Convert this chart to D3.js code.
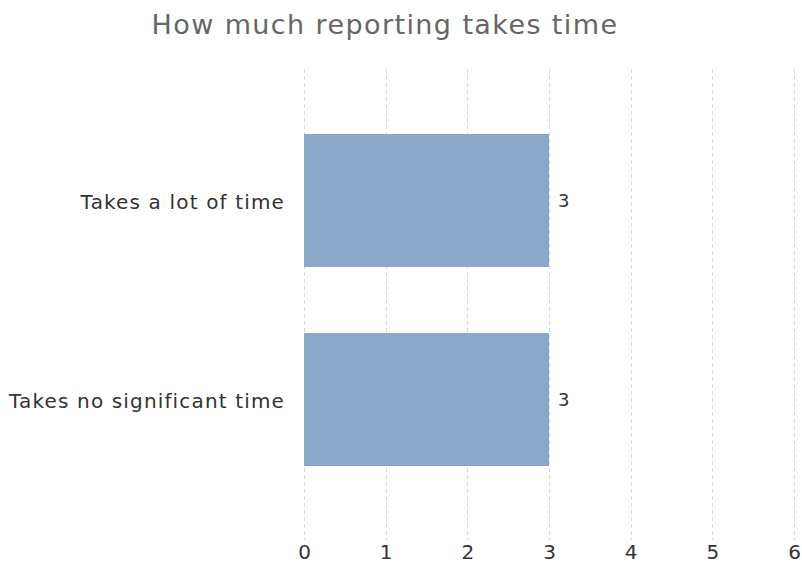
<!DOCTYPE html>
<html>
<head>
<meta charset="utf-8">
<script src="https://cdn.jsdelivr.net/npm/d3@7"></script>
<style>
  html, body { margin: 0; padding: 0; background: #fff; }
  svg { display: block; }
  text { font-family: "DejaVu Sans", Verdana, sans-serif; }
</style>
</head>
<body>
<svg id="chart" width="802" height="563"></svg>
<script>
// Survey answers and their counts
const categories = ["Takes a lot of time", "Takes no significant time"];
const counts = [3, 3];
const tickValues = [0, 1, 2, 3, 4, 5, 6];
const chartTitle = "How much reporting takes time";

const width = 802, height = 563;
const margin = { top: 69, right: 8, bottom: 23, left: 304 };

const svg = d3.select("#chart");

const x = d3.scaleLinear()
  .domain([0, 6])
  .range([margin.left, width - margin.right]);

const y = d3.scaleBand()
  .domain(categories)
  .range([101, 499])
  .paddingInner(66 / 199)
  .paddingOuter(33 / 199);

// Title
svg.append("text")
  .attr("x", 385)
  .attr("y", 34)
  .attr("text-anchor", "middle")
  .attr("font-size", 27)
  .attr("letter-spacing", 1.4)
  .attr("fill", "#666")
  .text(chartTitle);

// Dashed vertical grid lines
svg.append("g")
  .selectAll("line")
  .data(tickValues)
  .join("line")
  .attr("x1", d => Math.round(x(d)) + 0.5)
  .attr("x2", d => Math.round(x(d)) + 0.5)
  .attr("y1", margin.top)
  .attr("y2", height - margin.bottom)
  .attr("stroke", "#d9d9d9")
  .attr("stroke-width", 1)
  .attr("stroke-dasharray", "4,3");

// Bars
svg.append("g")
  .selectAll("rect")
  .data(categories)
  .join("rect")
  .attr("x", x(0))
  .attr("y", d => y(d))
  .attr("width", (d, i) => x(counts[i]) - x(0))
  .attr("height", y.bandwidth())
  .attr("fill", "#8ba8c8");

// Value labels
svg.append("g")
  .selectAll("text")
  .data(categories)
  .join("text")
  .attr("x", (d, i) => x(counts[i]) + 9)
  .attr("y", d => y(d) + y.bandwidth() / 2 + 6)
  .attr("font-size", 18)
  .attr("fill", "#333")
  .text((d, i) => counts[i]);

// Category labels
svg.append("g")
  .selectAll("text")
  .data(categories)
  .join("text")
  .attr("x", x(0) - 19)
  .attr("y", d => y(d) + y.bandwidth() / 2 + 8)
  .attr("text-anchor", "end")
  .attr("font-size", 20)
  .attr("letter-spacing", 1.15)
  .attr("fill", "#333")
  .text(d => d);

// Bottom axis tick labels
const xAxis = d3.axisBottom(x)
  .tickValues(tickValues)
  .tickSize(0)
  .tickPadding(0)
  .tickFormat(d3.format("d"));

const axisG = svg.append("g")
  .attr("transform", `translate(0,${height - 4})`)
  .call(xAxis);
axisG.select(".domain").remove();
axisG.selectAll("text")
  .attr("dy", null)
  .attr("y", 0)
  .attr("font-size", 20)
  .attr("font-family", "\"DejaVu Sans\", Verdana, sans-serif")
  .attr("fill", "#333");
</script>
</body>
</html>
